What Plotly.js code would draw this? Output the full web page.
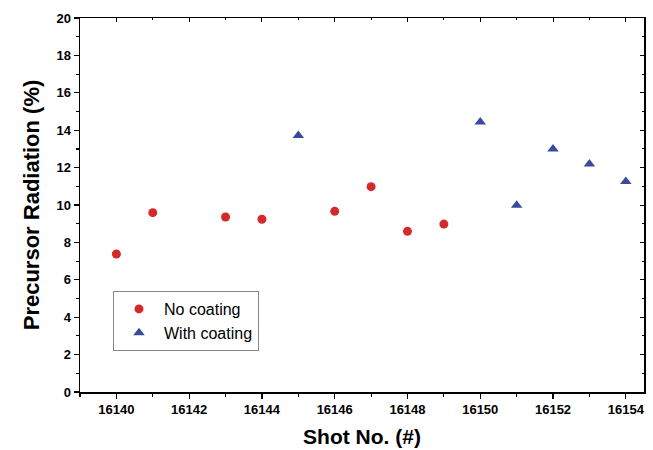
<!DOCTYPE html>
<html>
<head>
<meta charset="utf-8">
<script src="https://cdn.plot.ly/plotly-3.0.1.min.js"></script>
<style>html,body{margin:0;padding:0;background:#fff}#chart{width:653px;height:450px}</style>
</head>
<body>
<div id="chart"></div>
<script>
const noCoatShots = [16140, 16141, 16143, 16144, 16146, 16147, 16148, 16149];
const noCoatValues = [7.38, 9.59, 9.36, 9.24, 9.66, 10.98, 8.59, 8.98];
const withCoatShots = [16145, 16150, 16151, 16152, 16153, 16154];
const withCoatValues = [13.71, 14.44, 9.98, 13.0, 12.19, 11.26];
const xTickVals = [16140, 16142, 16144, 16146, 16148, 16150, 16152, 16154];
const yTickVals = [0, 2, 4, 6, 8, 10, 12, 14, 16, 18, 20];

const xRange = [16139, 16154.5];
const yRange = [0, 20];

const traces = [
  {x: noCoatShots, y: noCoatValues, type: 'scatter', mode: 'markers', name: 'No coating',
   marker: {symbol: 'circle', size: 9, color: '#d42a2a'}},
  {x: withCoatShots, y: withCoatValues, type: 'scatter', mode: 'markers', name: 'With coating',
   marker: {symbol: 'triangle-up', size: 10, color: '#3a4a9e'}},
  {x: [], y: [], xaxis: 'x2', yaxis: 'y2', showlegend: false, type: 'scatter', mode: 'markers'}
];

const tickFont = {family: 'Liberation Sans, Arial, sans-serif', size: 13, color: '#000', weight: 'bold'};

const layout = {
  width: 653, height: 450,
  margin: {l: 80, r: 9, t: 18, b: 58},
  paper_bgcolor: '#fff', plot_bgcolor: '#fff',
  showlegend: true,
  legend: {x: 0.0585, y: 0.27, xanchor: 'left', yanchor: 'top',
    bordercolor: '#888', borderwidth: 1, bgcolor: '#fff',
    font: {family: 'Liberation Sans, Arial, sans-serif', size: 16, color: '#000'},
    itemwidth: 40, tracegroupgap: 0},
  xaxis: {range: xRange, tickvals: xTickVals, ticktext: xTickVals.map(String),
    ticks: 'outside', ticklen: 5, tickwidth: 1.2, tickcolor: '#000',
    minor: {dtick: 1, tick0: 16139, ticks: 'outside', ticklen: 3, tickwidth: 1.2, tickcolor: '#000'},
    showline: true, linecolor: '#000', linewidth: 1.5, showgrid: false, zeroline: false,
    tickfont: tickFont,
    title: {text: 'Shot No. (#)', font: {family: 'Liberation Sans, Arial, sans-serif', size: 21, color: '#000', weight: 'bold'}, standoff: 13}},
  yaxis: {range: yRange, tickvals: yTickVals,
    ticks: 'outside', ticklen: 5, tickwidth: 1.2, tickcolor: '#000',
    minor: {dtick: 1, ticks: 'outside', ticklen: 3, tickwidth: 1.2, tickcolor: '#000'},
    showline: true, linecolor: '#000', linewidth: 1.5, showgrid: false, zeroline: false,
    tickfont: tickFont,
    title: {text: 'Precursor Radiation (%)', font: {family: 'Liberation Sans, Arial, sans-serif', size: 22, color: '#000', weight: 'bold'}, standoff: 10}},
  xaxis2: {range: xRange, overlaying: 'x', side: 'top', anchor: 'y',
    tickvals: xTickVals, showticklabels: false, ticks: 'inside', ticklen: 4, tickwidth: 1, tickcolor: '#000',
    minor: {dtick: 1, tick0: 16139, ticks: 'inside', ticklen: 2, tickcolor: '#000'},
    showline: true, linecolor: '#000', linewidth: 1.5, showgrid: false, zeroline: false},
  yaxis2: {range: yRange, overlaying: 'y', side: 'right', anchor: 'x',
    tickvals: yTickVals, showticklabels: false, ticks: 'inside', ticklen: 4, tickwidth: 1, tickcolor: '#000',
    minor: {dtick: 1, ticks: 'inside', ticklen: 2, tickcolor: '#000'},
    showline: true, linecolor: '#000', linewidth: 1.5, showgrid: false, zeroline: false}
};

Plotly.newPlot('chart', traces, layout, {displayModeBar: false, staticPlot: true});
</script>
</body>
</html>
